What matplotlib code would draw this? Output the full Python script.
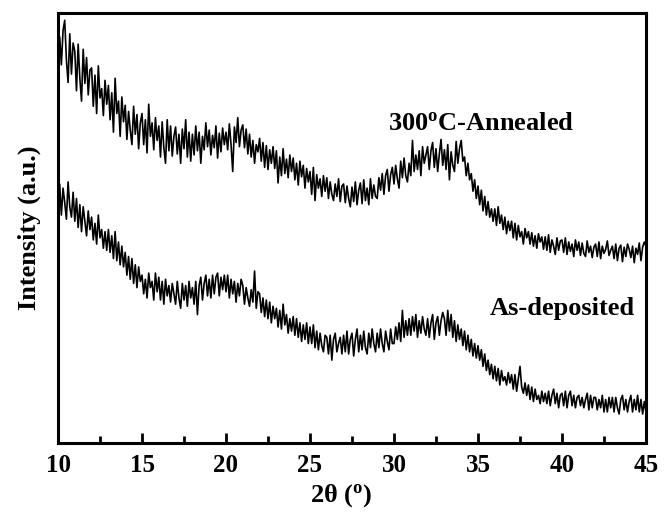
import numpy as np
import matplotlib
matplotlib.use("Agg")
import matplotlib.pyplot as plt
from matplotlib.ticker import MultipleLocator

plt.rcParams['font.family'] = ['Liberation Serif', 'DejaVu Serif']
plt.rcParams['mathtext.fontset'] = 'custom'
plt.rcParams['mathtext.rm'] = 'Liberation Serif:bold'
plt.rcParams['mathtext.bf'] = 'Liberation Serif:bold'
plt.rcParams['mathtext.it'] = 'Liberation Serif:bold:italic'

two_theta_start = 10.0
two_theta_step = 0.1

annealed = [
    352, 392, 365, 398, 408, 370, 348, 395, 356, 386,
    378, 340, 385, 352, 330, 380, 347, 372, 336, 360,
    362, 325, 355, 318, 364, 333, 342, 316, 350, 327,
    345, 312, 338, 300, 352, 318, 330, 296, 334, 310,
    326, 293, 320, 302, 288, 325, 298, 317, 284, 309,
    318, 288, 312, 280, 327, 296, 309, 283, 314, 292,
    306, 276, 310, 285, 270, 312, 282, 306, 277, 296,
    305, 279, 298, 270, 303, 284, 312, 276, 300, 272,
    298, 278, 306, 282, 300, 270, 296, 283, 309, 286,
    302, 278, 297, 285, 306, 275, 299, 281, 304, 288,
    300, 283, 308, 288, 262, 305, 290, 314, 286, 302,
    307, 285, 303, 279, 298, 276, 292, 270, 288, 281,
    294, 272, 290, 266, 287, 264, 283, 270, 286, 265,
    282, 251, 276, 258, 284, 260, 274, 256, 278, 262,
    275, 254, 270, 249, 272, 257, 268, 246, 265, 252,
    262, 240, 266, 234, 259, 246, 255, 238, 258, 243,
    256, 236, 252, 240, 234, 250, 238, 255, 233, 248,
    250, 232, 248, 236, 228, 247, 233, 252, 230, 244,
    251, 231, 254, 234, 246, 230, 255, 236, 249, 238,
    236, 256, 244, 260, 240, 258, 264, 243, 259, 266,
    250, 268, 255, 246, 272, 256, 275, 258, 252, 270,
    258, 292, 262, 278, 264, 282, 258, 286, 270, 278,
    286, 264, 282, 290, 266, 284, 262, 279, 293, 268,
    283, 264, 288, 254, 281, 268, 262, 291, 270, 284,
    292, 272, 276, 258, 270, 254, 260, 243, 254, 236,
    248, 230, 244, 224, 238, 220, 233, 218, 226, 214,
    226, 210, 228, 212, 220, 206, 218, 202, 214, 205,
    214, 198, 212, 196, 210, 199, 204, 192, 207, 198,
    204, 192, 203, 190, 200, 188, 202, 194, 199, 187,
    199, 186, 201, 184, 196, 190, 182, 198, 186, 195,
    196, 184, 198, 182, 194, 185, 192, 180, 196, 186,
    194, 181, 193, 183, 180, 195, 184, 190, 179, 189,
    192, 180, 194, 178, 190, 183, 187, 195, 181, 186,
    190, 178, 192, 176, 188, 191, 175, 189, 180, 192,
    187, 179, 190, 174, 188, 182, 193, 176, 189, 194,
    190,
]

as_deposited = [
    226, 250, 220, 246, 232, 216, 252, 228, 218, 242,
    214, 236, 208, 230, 204, 228, 214, 200, 224, 206,
    218, 196, 212, 192, 220, 198, 206, 188, 204, 186,
    206, 184, 200, 178, 204, 176, 194, 172, 190, 170,
    184, 162, 180, 158, 178, 154, 172, 150, 170, 156,
    162, 144, 158, 140, 164, 150, 156, 138, 164, 146,
    160, 138, 156, 134, 158, 142, 152, 136, 154, 144,
    134, 156, 140, 130, 154, 138, 152, 132, 156, 140,
    150, 134, 156, 124, 152, 160, 138, 154, 162, 142,
    158, 140, 162, 144, 160, 164, 142, 160, 148, 162,
    146, 162, 140, 158, 144, 156, 136, 154, 142, 158,
    152, 134, 150, 140, 132, 148, 136, 166, 130, 146,
    144, 126, 140, 122, 138, 120, 136, 116, 132, 120,
    130, 112, 128, 110, 134, 114, 124, 106, 120, 108,
    122, 104, 120, 102, 116, 98, 114, 100, 116, 96,
    112, 96, 114, 92, 108, 90, 106, 94, 88, 104,
    102, 86, 104, 80, 100, 106, 88, 96, 102, 86,
    104, 88, 108, 86, 100, 106, 84, 100, 110, 88,
    104, 90, 108, 92, 86, 106, 92, 110, 96, 88,
    106, 92, 110, 96, 88, 108, 98, 90, 110, 96,
    96, 112, 100, 116, 98, 128, 102, 118, 104, 120,
    104, 122, 108, 124, 102, 118, 106, 122, 110, 104,
    120, 102, 116, 124, 100, 116, 122, 104, 118, 126,
    120, 104, 128, 108, 124, 102, 118, 98, 114, 100,
    110, 94, 108, 90, 104, 88, 100, 84, 96, 82,
    94, 80, 90, 74, 86, 70, 80, 66, 76, 62,
    74, 60, 72, 56, 70, 60, 64, 56, 68, 58,
    66, 52, 66, 50, 62, 74, 54, 48, 58, 46,
    56, 42, 54, 40, 52, 42, 46, 38, 50, 40,
    48, 38, 50, 36, 46, 52, 38, 48, 34, 46,
    48, 36, 50, 34, 46, 50, 36, 46, 34, 44,
    46, 36, 44, 34, 42, 48, 32, 46, 34, 44,
    44, 32, 42, 34, 46, 30, 42, 30, 44, 34,
    44, 30, 44, 34, 28, 42, 46, 32, 42, 30,
    40, 46, 30, 42, 32, 46, 30, 42, 28, 40,
    30,
]

x_ticks = [10, 15, 20, 25, 30, 35, 40, 45]
labels = ['300$^{\\mathrm{o}}$C-Annealed', 'As-deposited']

two_theta = two_theta_start + two_theta_step * np.arange(len(annealed))

fig = plt.figure(figsize=(6.69, 5.14), dpi=100)
ax = fig.add_axes([0.0867, 0.1381, 0.8789, 0.8366])

ax.plot(two_theta, annealed, color='black', lw=1.2)
ax.plot(two_theta, as_deposited, color='black', lw=1.2)

ax.set_xlim(10, 45)
ax.set_ylim(0, 415)
ax.set_xticks(x_ticks)
ax.set_xticklabels([str(t) for t in x_ticks], fontsize=18, fontweight='bold')
ax.xaxis.set_minor_locator(MultipleLocator(2.5))
ax.tick_params(axis='x', which='major', direction='in', length=7, width=2, pad=8)
ax.tick_params(axis='x', which='minor', direction='in', length=5, width=2)
ax.set_yticks([])
for s in ax.spines.values():
    s.set_linewidth(2.2)

ax.set_xlabel('2θ ($^{\\mathrm{o}}$)', fontsize=19, fontweight='bold')
ax.xaxis.set_label_coords(0.482, -0.092)
ax.set_ylabel('Intensity (a.u.)', fontsize=19, fontweight='bold', labelpad=12)

ax.text(29.64, 302, labels[0], fontsize=19, fontweight='bold', va='baseline', ha='left')
ax.text(35.71, 124, labels[1], fontsize=19, fontweight='bold', va='baseline', ha='left')

fig.savefig('out.png', dpi=100)
